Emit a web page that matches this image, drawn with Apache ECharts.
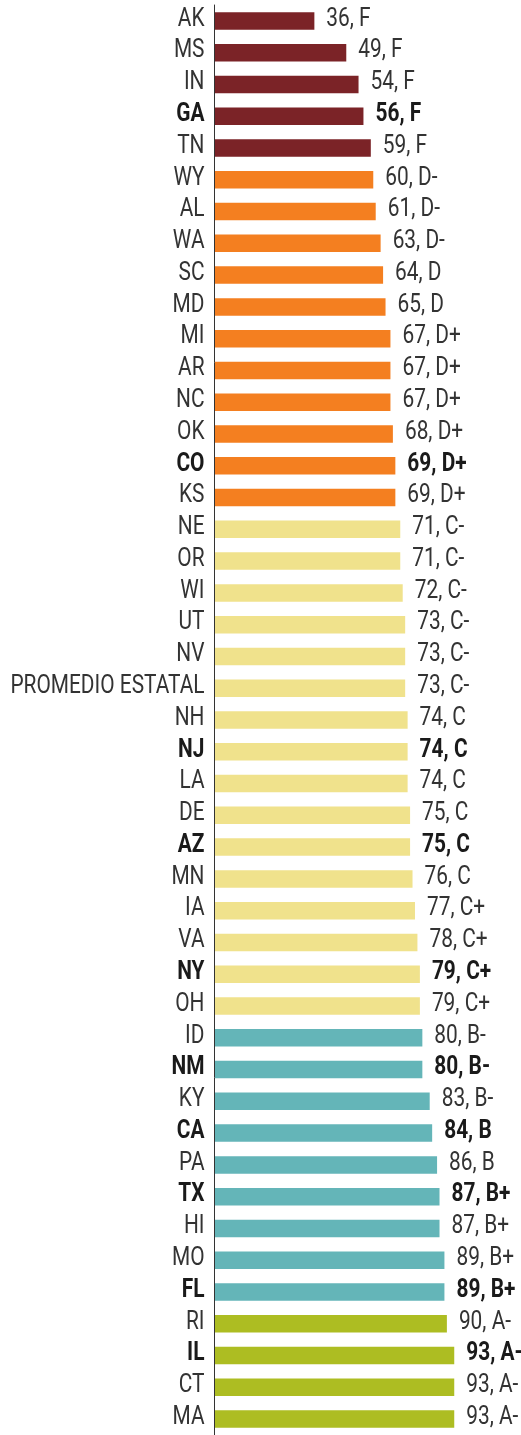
<!DOCTYPE html>
<html><head><meta charset="utf-8">
<script src="https://cdn.jsdelivr.net/npm/echarts@6/dist/echarts.min.js"></script>
<style>html,body{margin:0;padding:0;background:#fff}#c{width:521px;height:1435px}</style>
</head><body><div id="c"></div>
<script>
const states = ["AK","MS","IN","GA","TN","WY","AL","WA","SC","MD","MI","AR","NC","OK","CO","KS","NE","OR","WI","UT","NV","PROMEDIO ESTATAL","NH","NJ","LA","DE","AZ","MN","IA","VA","NY","OH","ID","NM","KY","CA","PA","TX","HI","MO","FL","RI","IL","CT","MA"];
const scores = [36,49,54,56,59,60,61,63,64,65,67,67,67,68,69,69,71,71,72,73,73,73,74,74,74,75,75,76,77,78,79,79,80,80,83,84,86,87,87,89,89,90,93,93,93];
const grades = ["F","F","F","F","F","D-","D-","D-","D","D","D+","D+","D+","D+","D+","D+","C-","C-","C-","C-","C-","C-","C","C","C","C","C","C","C+","C+","C+","C+","B-","B-","B-","B","B","B+","B+","B+","B+","A-","A-","A-","A-"];
const boldStates = ["GA","CO","NJ","AZ","NY","NM","CA","TX","FL","IL"];

const gradeColors = {F:"#7b2327", D:"#f47f20", C:"#f0e28c", B:"#64b5b8", A:"#adbd22"};
const FONT = 'Roboto,"Liberation Sans",sans-serif';
const FSIZE = 25, SX = 0.835;
const X_MIN = -4.7, X_MAX = 120;

const chart = echarts.init(document.getElementById('c'), null, {renderer:'canvas'});
chart.setOption({
  animation:false,
  grid:{left:214.5, right:0.5, top:5, height:1431, containLabel:false},
  xAxis:{type:'value', min:X_MIN, max:X_MAX, show:false},
  yAxis:{type:'category', inverse:true, data:states,
    axisLine:{show:true, onZero:false, lineStyle:{color:'#333', width:1}},
    axisTick:{show:false},
    axisLabel:{show:false}
  },
  series:[{
    type:'custom',
    data: scores.map((s,i)=>[s,i]),
    encode:{x:0,y:1},
    clip:false,
    renderItem:(params, api)=>{
      const v = api.value(0), idx = api.value(1);
      const start = api.coord([X_MIN, idx]);
      const end = api.coord([v, idx]);
      const bandH = api.size([0,1])[1];
      const h = bandH*0.55;
      const g = grades[idx];
      const bold = boldStates.includes(states[idx]);
      const font = (bold?'bold ':'') + FSIZE + 'px ' + FONT;
      const col = bold ? '#1a1a1a' : '#333';
      return {type:'group', children:[
        {type:'rect', shape:{x:start[0]+0.5, y:start[1]-h/2, width:end[0]-start[0]-0.5, height:h},
         style:{fill:gradeColors[g[0]]}},
        {type:'text', x:end[0]+12, y:end[1]-1.5, scaleX:SX,
         style:{text: v + ', ' + g, fill: col, font: font, verticalAlign:'middle', align:'left'}},
        {type:'text', x:start[0]-10, y:start[1]-1.5, scaleX:SX,
         style:{text: states[idx], fill: col, font: font, verticalAlign:'middle', align:'right'}}
      ]};
    }
  }]
});
</script></body></html>
